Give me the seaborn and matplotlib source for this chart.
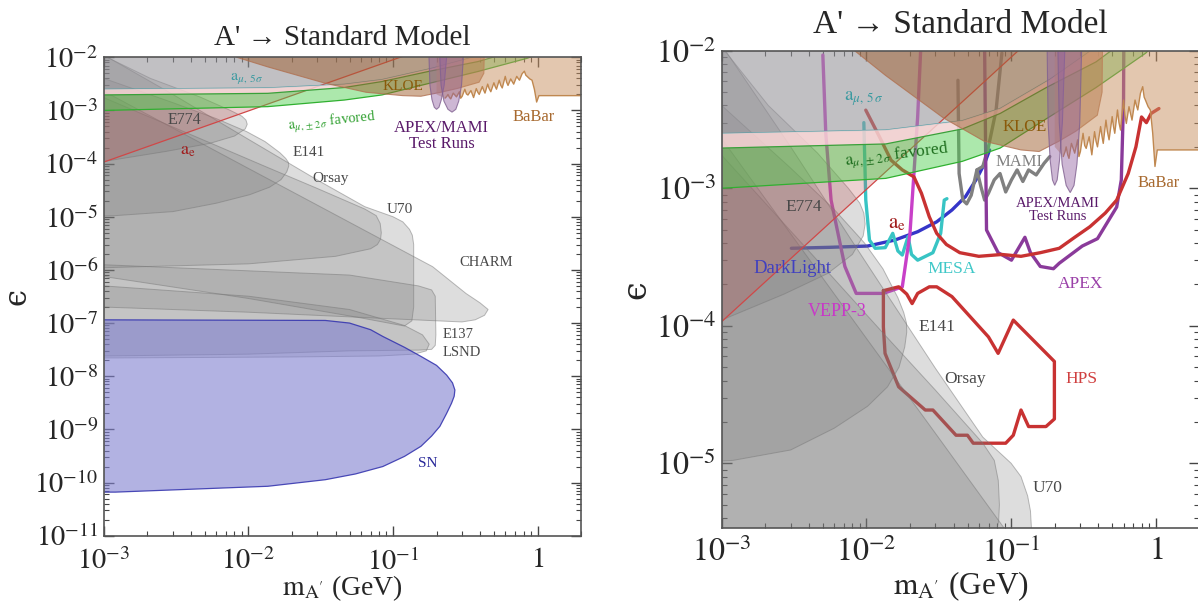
import numpy as np
import pandas as pd
import matplotlib
matplotlib.use("Agg")
import matplotlib.pyplot as plt
import seaborn as sns
from matplotlib.colors import to_rgba
from matplotlib.ticker import FixedLocator, FixedFormatter, LogLocator, NullFormatter

# ------------------------------------------------------------------ data
# axis ranges and tick labels
x_range = (1e-3, 2.0)
y_range_left = (1e-11, 1e-2)
y_range_right = (3.4e-6, 1e-2)
x_ticks = [1e-3, 1e-2, 1e-1, 1.0]
x_ticklabels = [r"$10^{-3}$", r"$10^{-2}$", r"$10^{-1}$", r"$1$"]
y_ticks_left = [1e-11, 1e-10, 1e-9, 1e-8, 1e-7, 1e-6, 1e-5, 1e-4, 1e-3, 1e-2]
y_ticklabels_left = [r"$10^{-11}$", r"$10^{-10}$", r"$10^{-9}$", r"$10^{-8}$", r"$10^{-7}$",
                     r"$10^{-6}$", r"$10^{-5}$", r"$10^{-4}$", r"$10^{-3}$", r"$10^{-2}$"]
y_ticks_right = [1e-5, 1e-4, 1e-3, 1e-2]
y_ticklabels_right = [r"$10^{-5}$", r"$10^{-4}$", r"$10^{-3}$", r"$10^{-2}$"]

# existing limits: closed boundaries (mass in GeV, epsilon)
e774_m = [5e-4, 1.05e-3, 2.1e-3, 4.6e-3, 7.5e-3, 9.0e-3, 9.6e-3, 9.8e-3, 9.5e-3, 8.0e-3, 5.4e-3, 2.7e-3, 1.0e-3, 5e-4]
e774_eps = [2e-2, 1e-2, 4.0e-3, 1.8e-3, 1.0e-3, 7.8e-4, 6.6e-4, 5.5e-4, 4.5e-4, 3.3e-4, 2.4e-4, 1.7e-4, 1.1e-4, 1.0e-4]

e141_m = [5e-4, 1e-3, 3e-3, 6e-3, 9.7e-3, 0.013, 0.0165, 0.0181, 0.0189, 0.0190, 0.0184, 0.0168, 0.0140, 0.0102, 6e-3, 3e-3, 1.2e-3, 5e-4]
e141_eps = [8e-3, 4e-3, 1.4e-3, 7e-4, 4e-4, 2.6e-4, 1.6e-4, 1.25e-4, 1.05e-4, 9.0e-5, 7.0e-5, 5.0e-5, 3.6e-5, 2.6e-5, 1.8e-5, 1.25e-5, 1.05e-5, 1.0e-5]

orsay_m = [5e-4, 1e-3, 4e-3, 0.0131, 0.03, 0.0637, 0.0765, 0.0815, 0.083, 0.082, 0.078, 0.07, 0.04, 0.01, 1e-3, 5e-4]
orsay_eps = [3.8e-3, 1.74e-3, 3.5e-4, 8.8e-5, 3.4e-5, 1.4e-5, 1.05e-5, 7.5e-6, 5e-6, 3.8e-6, 3.0e-6, 2.5e-6, 1.8e-6, 1.3e-6, 1.1e-6, 1.1e-6]

u70_m = [5e-4, 1e-3, 3e-3, 9.7e-3, 0.03, 0.0637, 0.1, 0.117, 0.13, 0.136, 0.139, 0.139, 0.135, 0.12, 0.06, 0.01, 1e-3, 5e-4]
u70_eps = [2.5e-2, 1.1e-2, 2.0e-3, 3.0e-4, 4.9e-5, 1.55e-5, 1.0e-5, 8.0e-6, 5.8e-6, 4.5e-6, 3.0e-6, 2.0e-7, 1.1e-7, 8.8e-8, 1.25e-7, 2.9e-7, 7.5e-7, 8e-7]

charm_m = [5e-4, 1e-3, 0.01, 0.03, 0.084, 0.188, 0.32, 0.40, 0.455, 0.43, 0.37, 0.3, 0.1, 0.01, 1e-3, 5e-4]
charm_eps = [6e-3, 2.3e-3, 8.1e-5, 1.65e-5, 3.7e-6, 1.15e-6, 3.6e-7, 2.4e-7, 1.8e-7, 1.4e-7, 1.15e-7, 1.05e-7, 1.2e-7, 1.6e-7, 2.0e-7, 2.1e-7]

e137_m = [5e-4, 1e-3, 0.05, 0.15, 0.185, 0.196, 0.198, 0.196, 0.185, 0.15, 0.05, 0.01, 1e-3, 5e-4]
e137_eps = [1.3e-6, 1.25e-6, 8e-7, 5e-7, 4.2e-7, 3.2e-7, 6e-8, 3.8e-8, 3.2e-8, 3.1e-8, 3.0e-8, 2.6e-8, 2.4e-8, 2.4e-8]

lsnd_m = [5e-4, 1e-3, 0.01, 0.05, 0.12, 0.16, 0.178, 0.17, 0.14, 0.08, 0.02, 1e-3, 5e-4]
lsnd_eps = [5.5e-7, 5e-7, 3.2e-7, 1.8e-7, 9e-8, 6e-8, 4e-8, 3e-8, 2.6e-8, 2.4e-8, 2.3e-8, 2.2e-8, 2.2e-8]

sn_m = [5e-4, 1e-3, 0.034, 0.05, 0.07, 0.085, 0.12, 0.156, 0.2, 0.235, 0.258, 0.268, 0.265, 0.254,
        0.235, 0.211, 0.185, 0.156, 0.12, 0.085, 0.055, 0.034, 0.0136, 1.2e-3, 5e-4]
sn_eps = [1.15e-7, 1.15e-7, 1.12e-7, 1.0e-7, 7.5e-8, 5.6e-8, 3.5e-8, 2.36e-8, 1.6e-8, 1.05e-8, 7.5e-9,
          5.5e-9, 4.2e-9, 3.1e-9, 2.0e-9, 1.14e-9, 7.5e-10, 4.8e-10, 3.1e-10, 2.0e-10, 1.45e-10,
          1.13e-10, 8.5e-11, 6.6e-11, 6.6e-11]

# electron g-2 boundary (straight line)
ae_m = [5e-4, 0.23]
ae_eps = [5.5e-5, 2e-2]

# muon g-2: 5 sigma exclusion and +-2 sigma favoured band
amu5_m = [5e-4, 1e-3, 0.0136, 0.046, 0.084, 0.186, 0.38, 0.6]
amu5_eps = [2.5e-3, 2.5e-3, 2.65e-3, 3.1e-3, 3.8e-3, 6.2e-3, 1.05e-2, 1.6e-2]
amu2_hi_m = [5e-4, 1e-3, 0.0136, 0.046, 0.084, 0.175, 0.386, 0.49, 0.8]
amu2_hi_eps = [1.96e-3, 1.96e-3, 2.1e-3, 2.7e-3, 3.5e-3, 5.4e-3, 8.3e-3, 1.0e-2, 1.6e-2]
amu2_lo_m = [5e-4, 1e-3, 0.0136, 0.046, 0.084, 0.175, 0.386, 0.85, 1.4]
amu2_lo_eps = [1.0e-3, 1.0e-3, 1.18e-3, 1.57e-3, 1.96e-3, 3.2e-3, 5.4e-3, 9.6e-3, 1.6e-2]

kloe_m = [8.0e-3, 8.3e-3, 0.0136, 0.034, 0.065, 0.117, 0.156, 0.214, 0.28, 0.394, 0.425, 0.43]
kloe_eps = [2e-2, 1e-2, 6.6e-3, 3.25e-3, 2.2e-3, 1.9e-3, 1.85e-3, 2.2e-3, 2.6e-3, 3.4e-3, 5e-3, 2e-2]

babar_m = [0.2, 0.229, 0.236, 0.240, 0.246, 0.251, 0.261, 0.268, 0.275, 0.288, 0.294, 0.301, 0.314,
           0.322, 0.330, 0.346, 0.352, 0.361, 0.377, 0.386, 0.395, 0.415, 0.424, 0.433, 0.452, 0.462,
           0.475, 0.499, 0.510, 0.520, 0.543, 0.556, 0.570, 0.598, 0.611, 0.625, 0.652, 0.668, 0.684,
           0.718, 0.734, 0.750, 0.782, 0.811, 0.830, 0.847, 0.884, 0.916, 0.951, 0.986, 1.023, 2.5]
babar_eps = [2.0e-3, 1.70e-3, 1.85e-3, 2.00e-3, 1.75e-3, 1.65e-3, 2.12e-3, 1.95e-3, 1.80e-3, 2.25e-3,
             1.70e-3, 1.85e-3, 2.51e-3, 2.05e-3, 1.95e-3, 2.37e-3, 2.10e-3, 1.75e-3, 2.58e-3, 2.20e-3,
             2.00e-3, 2.81e-3, 2.40e-3, 2.12e-3, 3.13e-3, 2.60e-3, 2.25e-3, 3.32e-3, 2.80e-3, 2.51e-3,
             3.71e-3, 3.00e-3, 2.65e-3, 4.38e-3, 3.40e-3, 2.96e-3, 3.92e-3, 3.50e-3, 3.13e-3, 4.38e-3,
             4.00e-3, 3.71e-3, 4.90e-3, 5.48e-3, 4.60e-3, 4.38e-3, 3.92e-3, 3.71e-3, 2.51e-3, 1.44e-3,
             1.90e-3, 1.90e-3]

testrun_a_m = [0.176, 0.180, 0.186, 0.193, 0.200, 0.208, 0.216, 0.226, 0.240]
testrun_a_eps = [2e-2, 3e-3, 1.6e-3, 1.15e-3, 1.05e-3, 1.15e-3, 1.6e-3, 3e-3, 2e-2]
testrun_b_m = [0.208, 0.215, 0.225, 0.240, 0.256, 0.272, 0.285, 0.298, 0.312]
testrun_b_eps = [2e-2, 3e-3, 1.5e-3, 1.05e-3, 9.3e-4, 1.05e-3, 1.5e-3, 3e-3, 2e-2]

# future experiments (right panel)
darklight_m = [3.03e-3, 5.57e-3, 0.0102, 0.0157, 0.0226, 0.0306, 0.039, 0.0484, 0.058, 0.0656, 0.071]
darklight_eps = [3.66e-4, 3.72e-4, 3.8e-4, 4.2e-4, 4.83e-4, 5.7e-4, 6.95e-4, 8.7e-4, 1.18e-3, 1.52e-3, 1.9e-3]

mesa_m = [9.6e-3, 9.9e-3, 0.0105, 0.0115, 0.0135, 0.0152, 0.0165, 0.0177, 0.0194, 0.0205, 0.0226,
          0.0288, 0.0326, 0.0345, 0.036]
mesa_eps = [3.0e-3, 8.2e-4, 4.2e-4, 3.66e-4, 3.7e-4, 4.7e-4, 3.5e-4, 3.27e-4, 4.45e-4, 3.3e-4, 3.0e-4,
            3.4e-4, 4.7e-4, 8.2e-4, 8.4e-4]

vepp3_m = [5.0e-3, 5.24e-3, 5.7e-3, 7.1e-3, 8.5e-3, 0.0131, 0.0160, 0.0177, 0.020, 0.0213, 0.0226, 0.0237]
vepp3_eps = [9.3e-3, 2.5e-3, 8.2e-4, 2.7e-4, 1.72e-4, 1.72e-4, 1.85e-4, 1.92e-4, 4.7e-4, 1.28e-3, 3.3e-3, 1.0e-2]

mami_m = [0.0429, 0.0437, 0.0464, 0.0493, 0.053, 0.058, 0.0618, 0.0656, 0.0697, 0.0764, 0.0838, 0.0917,
          0.1005, 0.110, 0.1205, 0.132, 0.149, 0.169, 0.185]
mami_eps = [6.1e-3, 1.28e-3, 8.2e-4, 7.7e-4, 8.9e-4, 1.36e-3, 1.03e-3, 8.2e-4, 9.2e-4, 1.15e-3, 1.28e-3,
            9.4e-4, 1.15e-3, 1.36e-3, 1.12e-3, 1.36e-3, 1.25e-3, 1.52e-3, 1.70e-3]
mami_upper_m = [0.0863, 0.0787, 0.0697, 0.0637, 0.058]
mami_upper_eps = [9.6e-3, 3.7e-3, 2.0e-3, 1.44e-3, 1.36e-3]

apex_m = [0.0656, 0.0668, 0.0676, 0.0813, 0.1005, 0.1245, 0.136, 0.159, 0.196, 0.215, 0.31, 0.395,
          0.536, 0.577, 0.598, 0.60]
apex_eps = [1e-2, 1.44e-3, 4.97e-4, 3.4e-4, 3.0e-4, 4.4e-4, 3.4e-4, 2.7e-4, 2.6e-4, 2.85e-4, 3.8e-4,
            4.3e-4, 7.3e-4, 1.15e-3, 4.4e-3, 1e-2]

hps_bump_m = [9.9e-3, 0.0123, 0.0148, 0.0177, 0.0213, 0.024, 0.0272, 0.0306, 0.0357, 0.0442, 0.0598,
              0.0863, 0.117, 0.159, 0.215, 0.275, 0.35, 0.447, 0.536, 0.644, 0.728, 0.796, 0.86, 0.927, 1.05]
hps_bump_eps = [3.7e-3, 2.37e-3, 1.6e-3, 1.36e-3, 1.21e-3, 9.2e-4, 6.2e-4, 4.7e-4, 3.9e-4, 3.4e-4,
                3.2e-4, 3.3e-4, 3.2e-4, 3.4e-4, 3.66e-4, 4.4e-4, 5.25e-4, 6.6e-4, 8.2e-4, 1.28e-3,
                2.0e-3, 3.3e-3, 3.0e-3, 3.5e-3, 3.8e-3]

hps_vertex_m = [0.0131, 0.0131, 0.01345, 0.0167, 0.0255, 0.0288, 0.0416, 0.0499, 0.0547, 0.0917, 0.1035,
                0.117, 0.132, 0.174, 0.199, 0.199, 0.1035, 0.0813, 0.0697, 0.039, 0.0306, 0.0272,
                0.0226, 0.0207, 0.019, 0.0167, 0.0131]
hps_vertex_eps = [1.8e-4, 9.8e-5, 6.3e-5, 3.6e-5, 2.44e-5, 2.44e-5, 1.6e-5, 1.6e-5, 1.4e-5, 1.4e-5, 1.6e-5,
                  2.44e-5, 1.85e-5, 1.85e-5, 2.1e-5, 5.5e-5, 1.1e-4, 6.3e-5, 8.3e-5, 1.63e-4, 1.92e-4,
                  1.92e-4, 1.72e-4, 1.45e-4, 1.7e-4, 1.92e-4, 1.8e-4]

# ------------------------------------------------------------------ style
sns.set_style("ticks")
plt.rcParams["font.family"] = ["Liberation Serif", "DejaVu Serif"]
plt.rcParams["mathtext.fontset"] = "stix"
plt.rcParams["axes.linewidth"] = 1.2

GRAY_TXT = "#484848"

fig = plt.figure(figsize=(11.98, 6.07), dpi=100)
axL = fig.add_axes([0.0868, 0.1175, 0.3982, 0.7881])
axR = fig.add_axes([0.6024, 0.1306, 0.3988, 0.7858])


def region(ax, m, eps, face, alpha, edge, ealpha=0.7, lw=0.8, z=2):
    ax.fill(m, eps, facecolor=to_rgba(face, alpha), edgecolor=to_rgba(edge, ealpha),
            linewidth=lw, zorder=z)


def curve(ax, m, eps, color, lw=2.4, z=1.5):
    df = pd.DataFrame({"m": m, "eps": eps})
    sns.lineplot(data=df, x="m", y="eps", ax=ax, color=color, lw=lw, sort=False,
                 estimator=None, zorder=z)


def band(m1, e1, m2, e2):
    return list(m1) + list(m2[::-1]), list(e1) + list(e2[::-1])


def existing(ax):
    for m, e in [(e774_m, e774_eps), (e141_m, e141_eps), (orsay_m, orsay_eps), (u70_m, u70_eps),
                 (charm_m, charm_eps), (e137_m, e137_eps), (lsnd_m, lsnd_eps)]:
        region(ax, m, e, "#7a7a7a", 0.25, "#777777", 0.5, 0.7, 2)
    region(ax, sn_m, sn_eps, "#8080d0", 0.60, "#3838b0", 0.9, 0.9, 2.1)
    # a_e
    region(ax, ae_m + [5e-4], ae_eps + [2e-2], "#c05a5a", 0.28, "#c05a5a", 0.0, 0, 3)
    ax.plot(ae_m, ae_eps, color="#d04848", lw=0.9, zorder=3.1)
    # a_mu 5 sigma
    region(ax, amu5_m + [0.6, 5e-4], amu5_eps + [2e-2, 2e-2], "#7fa7b0", 0.40, "#4a9aa0", 0.0, 0, 3)
    ax.plot(amu5_m, amu5_eps, color="#5aa0a8", lw=0.9, zorder=3.1)
    # pink strip between 5 sigma and favoured band
    pm, pe = band(amu5_m, amu5_eps, amu2_hi_m, amu2_hi_eps)
    region(ax, pm, pe, "#f2d4d4", 0.85, "#f2d4d4", 0.0, 0, 4)
    # favoured band
    gm, ge = band(amu2_hi_m, amu2_hi_eps, amu2_lo_m, amu2_lo_eps)
    region(ax, gm, ge, "#48cc48", 0.45, "#30a030", 0.0, 0, 5)
    ax.plot(amu2_hi_m, amu2_hi_eps, color="#3aa03a", lw=0.9, zorder=5.1)
    ax.plot(amu2_lo_m, amu2_lo_eps, color="#30b030", lw=0.9, zorder=5.1)
    # KLOE
    region(ax, kloe_m, kloe_eps, "#a06030", 0.50, "#b07050", 0.8, 0.8, 6)
    # BaBar
    region(ax, babar_m + [2.5, 0.2], babar_eps + [2e-2, 2e-2], "#c89060", 0.50, "#c89060", 0.0, 0, 6)
    ax.plot(babar_m[1:], babar_eps[1:], color="#c08850", lw=1.0, zorder=6.1)
    # APEX / MAMI test runs
    region(ax, testrun_a_m, testrun_a_eps, "#9060a0", 0.45, "#806090", 0.8, 0.8, 7)
    region(ax, testrun_b_m, testrun_b_eps, "#9060a0", 0.45, "#806090", 0.8, 0.8, 7)


def style(ax, ylim, yt, ytl, fs, xpad):
    ax.set_xscale("log")
    ax.set_yscale("log")
    ax.set_xlim(*x_range)
    ax.set_ylim(*ylim)
    ax.xaxis.set_major_locator(FixedLocator(x_ticks))
    ax.xaxis.set_major_formatter(FixedFormatter(x_ticklabels))
    ax.xaxis.set_minor_locator(LogLocator(base=10, subs=np.arange(2, 10), numticks=60))
    ax.xaxis.set_minor_formatter(NullFormatter())
    ax.yaxis.set_major_locator(FixedLocator(yt))
    ax.yaxis.set_major_formatter(FixedFormatter(ytl))
    ax.yaxis.set_minor_locator(LogLocator(base=10, subs=np.arange(2, 10), numticks=60))
    ax.yaxis.set_minor_formatter(NullFormatter())
    ax.tick_params(which="both", direction="in", top=True, right=True, color="#444444")
    ax.tick_params(which="major", length=7, width=1.0, labelsize=fs)
    ax.tick_params(axis="x", which="major", pad=xpad)
    ax.tick_params(axis="y", which="major", pad=4)
    ax.tick_params(which="minor", length=3.5, width=0.8)
    for s in ax.spines.values():
        s.set_color("#555555")
        s.set_zorder(20)


def label(ax, x, y, s, color, fs, rot=0, **kw):
    ax.text(x, y, s, color=color, fontsize=fs, rotation=rot, ha="center", va="center",
            zorder=30, **kw)


# ------------------------------------------------------------------ left panel
axL.set_xscale("log"); axL.set_yscale("log")
existing(axL)
style(axL, y_range_left, y_ticks_left, y_ticklabels_left, 20.5, 9)
axL.set_title("A' \u2192 Standard Model", fontsize=21, pad=9)
axL.set_xlabel(r"$\mathrm{m}_{\mathrm{A'}}$ (GeV)", fontsize=20)
axL.set_ylabel("\u03f5", fontsize=22, family=["DejaVu Serif"])
axL.xaxis.set_label_coords(0.5, -0.078)
axL.yaxis.set_label_coords(-0.15, 0.5)

label(axL, 3.6e-3, 6.6e-4, "E774", GRAY_TXT, 11.5)
label(axL, 0.026, 1.6e-4, "E141", GRAY_TXT, 11)
label(axL, 0.037, 5.3e-5, "Orsay", GRAY_TXT, 11)
label(axL, 0.111, 1.35e-5, "U70", GRAY_TXT, 11)
label(axL, 0.44, 1.35e-6, "CHARM", GRAY_TXT, 10.5)
label(axL, 0.28, 6e-8, "E137", GRAY_TXT, 10.5)
label(axL, 0.30, 2.8e-8, "LSND", GRAY_TXT, 10.5)
label(axL, 0.174, 2.3e-10, "SN", "#2a2a9a", 11)
label(axL, 3.8e-3, 1.8e-4, r"$\mathrm{a}_{\mathrm{e}}$", "#a01c1c", 13)
label(axL, 9.7e-3, 4.0e-3, r"$\mathrm{a}_{\mu,\,5\,\sigma}$", "#3a9aa0", 11.5)
label(axL, 0.038, 6.2e-4, r"$\mathrm{a}_{\mu,\pm 2\,\sigma}$ favored", "#30a030", 10.5, rot=6)
label(axL, 0.118, 2.8e-3, "KLOE", "#8a5a0a", 11)
label(axL, 0.94, 7.4e-4, "BaBar", "#a86a30", 12)
label(axL, 0.217, 3.3e-4, "APEX/MAMI\nTest Runs", "#5a1a6a", 12, linespacing=0.95)

# ------------------------------------------------------------------ right panel
axR.set_xscale("log"); axR.set_yscale("log")
curve(axR, darklight_m, darklight_eps, "#3535c8")
curve(axR, mesa_m, mesa_eps, "#38c4c4")
curve(axR, vepp3_m, vepp3_eps, "#c840c8")
curve(axR, mami_m, mami_eps, "#808080")
curve(axR, mami_upper_m, mami_upper_eps, "#808080")
curve(axR, apex_m, apex_eps, "#8a3a9a")
curve(axR, hps_bump_m, hps_bump_eps, "#c83232")
curve(axR, hps_vertex_m, hps_vertex_eps, "#c83232")
existing(axR)
style(axR, y_range_right, y_ticks_right, y_ticklabels_right, 23, 7)
axR.set_title("A' \u2192 Standard Model", fontsize=24, pad=13)
axR.set_xlabel(r"$\mathrm{m}_{\mathrm{A'}}$ (GeV)", fontsize=22.5)
axR.set_ylabel("\u03f5", fontsize=24, family=["DejaVu Serif"])
axR.xaxis.set_label_coords(0.5, -0.088)
axR.yaxis.set_label_coords(-0.145, 0.5)

label(axR, 3.7e-3, 7.3e-4, "E774", GRAY_TXT, 12.5)
label(axR, 0.0306, 9.8e-5, "E141", GRAY_TXT, 12.5)
label(axR, 0.0484, 4.1e-5, "Orsay", GRAY_TXT, 12.5)
label(axR, 0.179, 6.6e-6, "U70", GRAY_TXT, 12.5)
label(axR, 0.0162, 5.55e-4, r"$\mathrm{a}_{\mathrm{e}}$", "#a01c1c", 15)
label(axR, 9.6e-3, 4.5e-3, r"$\mathrm{a}_{\mu,\,5\,\sigma}$", "#3a9aa0", 13.5)
label(axR, 0.0162, 1.75e-3, r"$\mathrm{a}_{\mu,\pm 2\,\sigma}$ favored", "#1e6e1e", 12.5, rot=7)
label(axR, 0.124, 2.8e-3, "KLOE", "#8a5a0a", 12)
label(axR, 0.1135, 1.56e-3, "MAMI", "#808080", 12)
label(axR, 1.05, 1.09e-3, "BaBar", "#a86a30", 12)
label(axR, 0.209, 6.95e-4, "APEX/MAMI\nTest Runs", "#5a1a6a", 10.5, linespacing=0.95)
label(axR, 3.1e-3, 2.6e-4, "DarkLight", "#4040c0", 13.5)
label(axR, 0.039, 2.6e-4, "MESA", "#40c8c8", 12.5)
label(axR, 0.30, 2.0e-4, "APEX", "#9a40a8", 12.5)
label(axR, 6.3e-3, 1.26e-4, "VEPP-3", "#c838c8", 13)
label(axR, 0.306, 4.1e-5, "HPS", "#d04040", 12.5)

fig.savefig("out.png", dpi=100)
